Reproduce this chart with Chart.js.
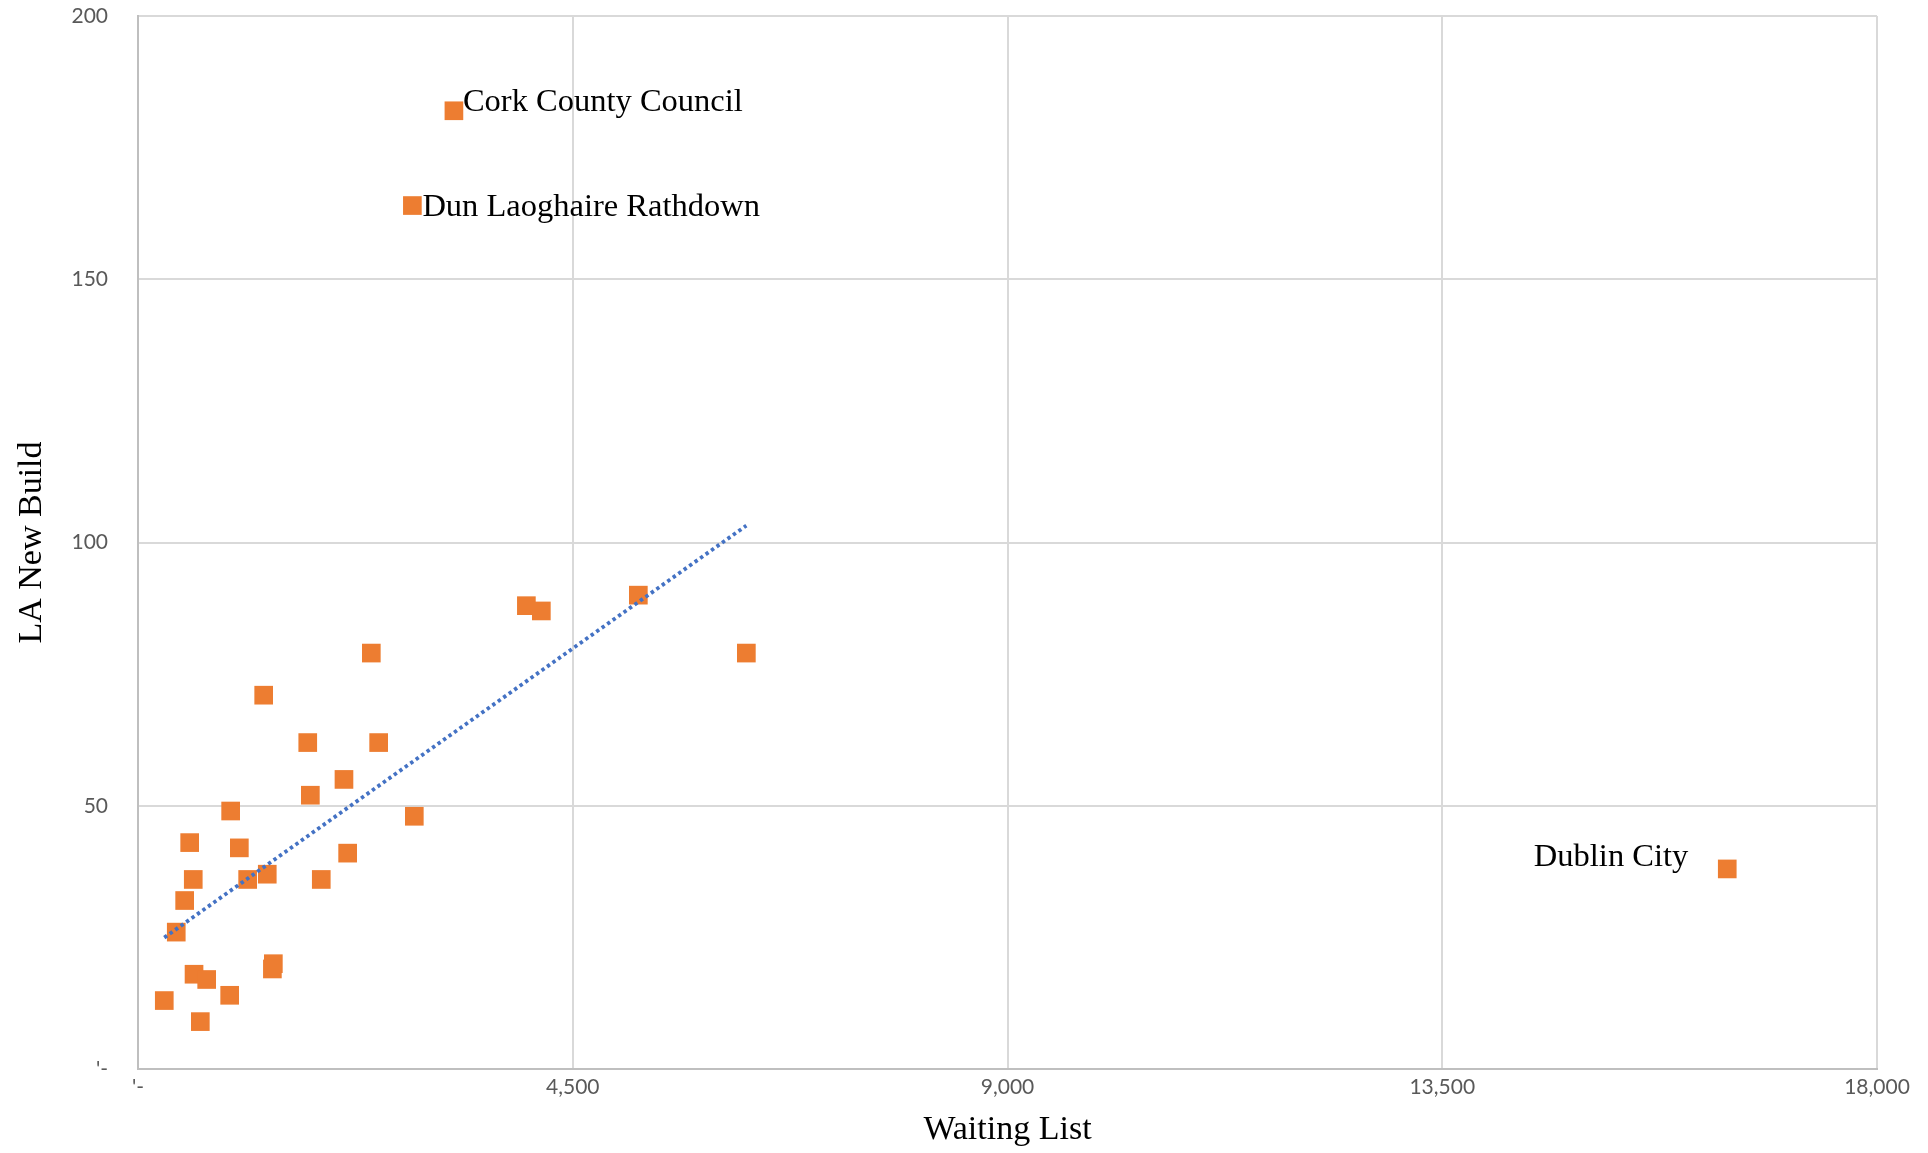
<!DOCTYPE html>
<html>
<head>
<meta charset="utf-8">
<title>LA New Build vs Waiting List</title>
<script src="https://cdn.jsdelivr.net/npm/chart.js@4/dist/chart.umd.min.js"></script>
<style>
  html, body { margin: 0; padding: 0; background: #ffffff; }
  canvas { display: block; }
</style>
</head>
<body>
<canvas id="chart" width="1928" height="1153"></canvas>
<script>
// Axis tick values
const xTicks = [0, 4500, 9000, 13500, 18000];
const yTicks = [0, 50, 100, 150, 200];

// Councils called out by name
const namedCouncils = ['Cork County Council', 'Dun Laoghaire Rathdown', 'Dublin City'];
const namedWaiting = [3270, 2840, 16450];
const namedBuild = [182, 164, 38];

// Remaining local authorities (the trendline is fitted to these)
const otherWaiting = [6297, 5179, 4020, 4175, 2415, 1301, 1757, 2491, 2132, 1784, 959, 2860, 535, 1049,
                      2170, 572, 1135, 1338, 1897, 483, 396, 1401, 1391, 580, 711, 949, 272, 645];
const otherBuild = [79, 90, 88, 87, 79, 71, 62, 62, 55, 52, 49, 48, 43, 42,
                    41, 36, 36, 37, 36, 32, 26, 20, 19, 18, 17, 14, 13, 9];

// Least-squares linear trend across the unnamed authorities
function linearTrend(xs, ys) {
  const n = xs.length;
  const mx = xs.reduce((a, b) => a + b, 0) / n;
  const my = ys.reduce((a, b) => a + b, 0) / n;
  let sxy = 0, sxx = 0;
  for (let i = 0; i < n; i++) {
    sxy += (xs[i] - mx) * (ys[i] - my);
    sxx += (xs[i] - mx) * (xs[i] - mx);
  }
  const slope = sxy / sxx;
  const x0 = Math.min(...xs), x1 = Math.max(...xs);
  return [
    { x: x0, y: my + slope * (x0 - mx) },
    { x: x1, y: my + slope * (x1 - mx) }
  ];
}

const toPoints = (xs, ys) => xs.map((x, i) => ({ x, y: ys[i] }));

// Where each council name sits relative to its marker
const labelPlacement = {
  'Cork County Council':    { dx: 9,   dy: 0,  align: 'left' },
  'Dun Laoghaire Rathdown': { dx: 10,  dy: 10, align: 'left' },
  'Dublin City':            { dx: -39, dy: -3, align: 'right' }
};

const councilLabels = {
  id: 'councilLabels',
  afterDatasetsDraw(chart) {
    const { ctx, scales: { x, y } } = chart;
    ctx.save();
    ctx.font = '32.5px "Liberation Serif", serif';
    ctx.fillStyle = '#000000';
    ctx.textBaseline = 'alphabetic';
    namedCouncils.forEach((name, i) => {
      const p = labelPlacement[name];
      ctx.textAlign = p.align;
      ctx.fillText(name,
        x.getPixelForValue(namedWaiting[i]) + p.dx,
        y.getPixelForValue(namedBuild[i]) + p.dy);
    });
    ctx.restore();
  }
};

const orange = '#ED7D31';
const markerStyle = {
  showLine: false,
  pointStyle: 'rect',
  pointRadius: 13.2,
  pointHoverRadius: 13.2,
  pointBackgroundColor: orange,
  pointBorderWidth: 0,
  backgroundColor: orange,
  borderColor: orange
};

const tickFont = { family: 'Lato', size: 21 };
const titleFont = { family: '"Liberation Serif", serif', size: 34 };
const tickText = v => (v === 0 ? "'-" : Number(v).toLocaleString('en-US'));

new Chart(document.getElementById('chart'), {
  type: 'scatter',
  data: {
    datasets: [
      {
        label: 'Linear trend',
        type: 'line',
        data: linearTrend(otherWaiting, otherBuild),
        borderColor: '#4472C4',
        borderWidth: 3.8,
        borderDash: [3.4, 3.3],
        borderCapStyle: 'butt',
        pointRadius: 0,
        fill: false,
        order: 0
      },
      Object.assign({ label: 'Local authorities', data: toPoints(otherWaiting, otherBuild), order: 1 }, markerStyle),
      Object.assign({ label: 'Named councils', data: toPoints(namedWaiting, namedBuild), order: 2 }, markerStyle)
    ]
  },
  options: {
    responsive: false,
    animation: false,
    events: [],
    layout: { padding: { top: 16, right: 51, bottom: 0, left: 0 } },
    plugins: { legend: { display: false }, tooltip: { enabled: false } },
    scales: {
      x: {
        type: 'linear',
        min: xTicks[0],
        max: xTicks[xTicks.length - 1],
        afterFit(scale) { scale.height = 84; scale.paddingLeft = 0; scale.paddingRight = 0; },
        afterBuildTicks(scale) { scale.ticks = xTicks.map(v => ({ value: v })); },
        ticks: { padding: 6, color: '#595959', font: tickFont, callback: tickText, maxRotation: 0 },
        grid: { color: '#D9D9D9', lineWidth: 2, drawTicks: false },
        border: { color: '#BFBFBF', width: 2 },
        title: { display: true, text: 'Waiting List', color: '#000000', font: titleFont, padding: { top: 0, bottom: 3 } }
      },
      y: {
        type: 'linear',
        min: yTicks[0],
        max: yTicks[yTicks.length - 1],
        afterFit(scale) { scale.width = 138; scale.paddingTop = 0; scale.paddingBottom = 0; },
        afterBuildTicks(scale) { scale.ticks = yTicks.map(v => ({ value: v })); },
        ticks: { padding: 30, color: '#595959', font: tickFont, callback: tickText },
        grid: { color: '#D9D9D9', lineWidth: 2, drawTicks: false },
        border: { color: '#BFBFBF', width: 2 },
        title: { display: true, text: 'LA New Build', color: '#000000', font: titleFont, padding: { top: 12, bottom: 0 } }
      }
    }
  },
  plugins: [councilLabels]
});
</script>
</body>
</html>
